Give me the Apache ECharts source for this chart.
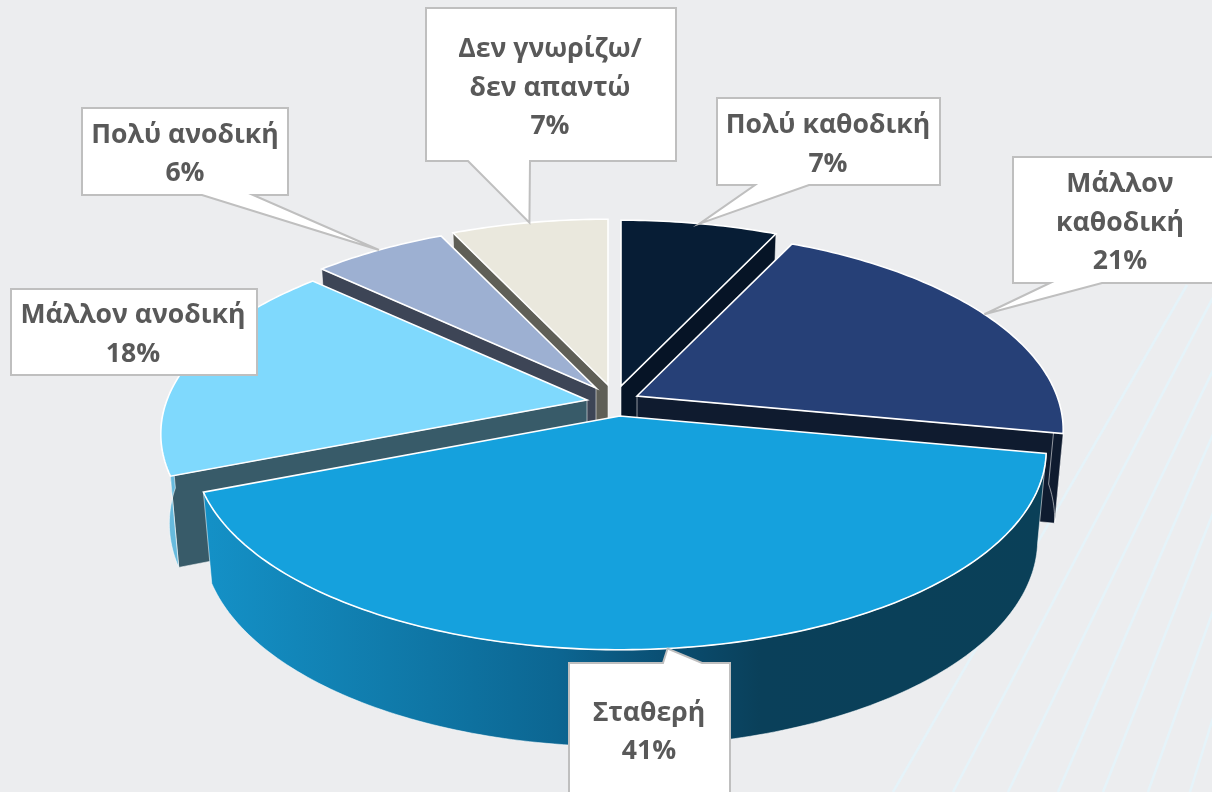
<!DOCTYPE html>
<html><head><meta charset="utf-8">
<style>html,body{margin:0;padding:0;background:#ECEDEF}#c{width:1212px;height:792px}</style>
<script src="https://cdn.jsdelivr.net/npm/echarts@6/dist/echarts.min.js"></script>
</head><body><div id="c"></div>
<script>
// ---- data ----
var categories = ['Πολύ καθοδική', 'Μάλλον\nκαθοδική', 'Σταθερή', 'Μάλλον ανοδική', 'Πολύ ανοδική', 'Δεν γνωρίζω/\nδεν απαντώ'];
var values = [7, 21, 41, 18, 6, 7];

// ---- styling ----
var topColors  = ['#071D35', '#264077', '#15A1DD', '#7FD9FD', '#9DB0D2', '#EAE8DD'];
var faceColors = ['#061426', '#0F1B2F', '#0A4A6C', '#385B69', '#3D4556', '#5F5F57'];
var wallColors = ['#061426', '#0F1B2F', null, '#67BADD', '#3D4556', '#5F5F57'];
var paintOrder = [0, 5, 4, 1, 3, 2];            // back to front
var explode = [[3,-12],[19,-2],[2,18],[-31,2],[-22,-10],[-10,-13]];
var pieCx = 618, pieCy = 398, R = 420, tR = 194, K = 0.17, D = 88, SHRINK = 0.98;
var boxes = [[717,98,940,185],[1013,157,1240,283],[569,663,730,830],[11,289,257,375],[82,108,288,195],[426,8,676,161]];
var tailBase = [[755,809],[1050,1102],[663,702],null,[202,253],[468,530]];
var textPos = [[828,145],[1120,223],[649,732.5],[133,335],[185,154.5],[550,88]];

var total = values.reduce(function(a,b){return a+b;},0);
var cum = []; values.reduce(function(a,b,i){cum[i]=a;return a+b;},0);

function rim(i, deg, r, low){
  var a = deg*Math.PI/180, X = Math.sin(a)*r, Y = Math.cos(a)*r, f = 1/(1+K*Y);
  var x = X*R*f, y = -Y*tR*f;
  if (low){ x *= SHRINK; y += D*(1-0.1*Y); }
  return [pieCx+explode[i][0]+x, pieCy+explode[i][1]+y];
}
function arc(i, a0, a1, low){
  var pts = [], n = Math.max(2, Math.ceil((a1-a0)));
  for (var k=0;k<=n;k++) pts.push(rim(i, a0+(a1-a0)*k/n, 1, low));
  return pts;
}
var wallGrad = {type:'linear',x:0,y:0,x2:1,y2:0,colorStops:[
  {offset:0,color:'#1491C7'},{offset:0.22,color:'#107BAB'},{offset:0.42,color:'#0C6692'},
  {offset:0.55,color:'#0A4E72'},{offset:0.66,color:'#0A405A'},{offset:1,color:'#0A4058'}]};

function renderSlice(params, api){
  var i = api.value(1), v = api.value(0);
  var a0 = cum[i]/total*360, a1 = (cum[i]+v)/total*360;
  var apexT = rim(i,0,0,false), apexB = rim(i,0,0,true);
  var edge = 'rgba(255,255,255,0.55)';
  function face(deg){
    return {type:'polygon',shape:{points:[apexT,rim(i,deg,1,false),rim(i,deg,1,true),apexB]},
            style:{fill:faceColors[i],stroke:edge,lineWidth:1}};
  }
  var children = [];
  // a cut face is visible only when it turns toward the viewer
  if (a0 > 180 && a0 < 360) children.push(face(a0));
  if (a1 > 0 && a1 < 180) children.push(face(a1));
  // only the part of the rim that faces the viewer has a visible outer wall
  var w0 = Math.max(a0,90), w1 = Math.min(a1,270);
  if (w1 > w0){
    children.push({type:'polygon',shape:{points:arc(i,w0,w1,false).concat(arc(i,w0,w1,true).reverse())},
      style:{fill:wallColors[i]||wallGrad,stroke:edge,lineWidth:1}});
  }
  children.push({type:'polygon',shape:{points:[apexT].concat(arc(i,a0,a1,false))},
    style:{fill:topColors[i],stroke:'#FFFFFF',lineWidth:1.6,lineJoin:'miter'}});
  return {type:'group',children:children};
}
function renderCallout(params, api){
  var i = api.value(1), v = api.value(0), b = boxes[i], t = tailBase[i];
  var mid = (cum[i]+v/2)/total*360, tip = rim(i,mid,1,false);
  var pts = [[b[0],b[1]]];
  if (t && b[1]>tip[1]) pts.push([t[0],b[1]],tip,[t[1],b[1]]);
  pts.push([b[2],b[1]],[b[2],b[3]]);
  if (t && b[1]<tip[1]) pts.push([t[1],b[3]],tip,[t[0],b[3]]);
  pts.push([b[0],b[3]]);
  return {type:'group',children:[
    {type:'polygon',shape:{points:pts},style:{fill:'#FFFFFF',stroke:'#BFBFBF',lineWidth:2}},
    {type:'text',style:{text:categories[i]+'\n'+v+'%',x:textPos[i][0],y:textPos[i][1],align:'center',verticalAlign:'middle',
      font:'bold 26.6px "Open Sans"',lineHeight:38.5,fill:'#595959'}}
  ]};
}
var bgLines = [[893,792,1187,285],[953,792,1217,290],[1008,792,1217,362],[1058,792,1217,425],[1103,792,1217,503],[1148,792,1217,600],[1190,792,1217,705]];

var chart = echarts.init(document.getElementById('c'), null, {renderer:'canvas'});
chart.setOption({
  animation:false,
  backgroundColor:'#ECEDEF',
  graphic:{elements:bgLines.map(function(l){
    return {type:'line',z:0,silent:true,shape:{x1:l[0],y1:l[1],x2:l[2],y2:l[3]},style:{stroke:'#E5F3F9',lineWidth:2.5}};
  })},
  series:[
    {type:'custom',coordinateSystem:'none',z:2,silent:true,renderItem:renderSlice,clip:false,
     data:paintOrder.map(function(i){return {name:categories[i],value:[values[i],i]};})},
    {type:'custom',coordinateSystem:'none',z:3,silent:true,renderItem:renderCallout,clip:false,
     data:[3,4,5,0,1,2].map(function(i){return {name:categories[i],value:[values[i],i]};})}
  ]
});
</script></body></html>
